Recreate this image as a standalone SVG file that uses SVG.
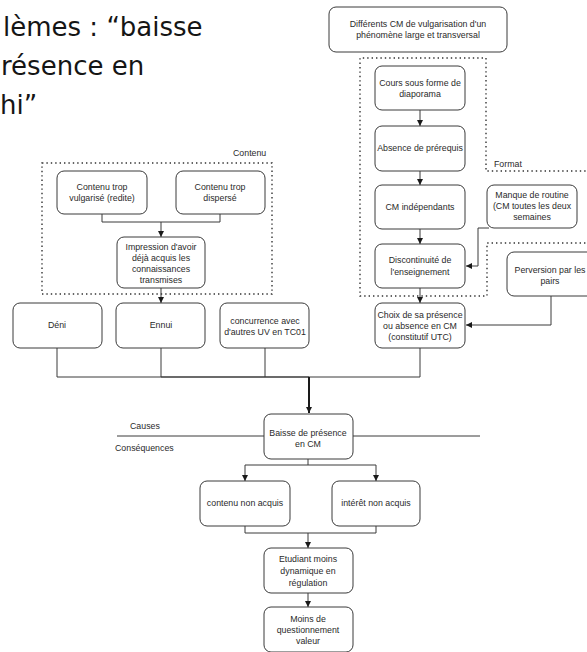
<svg xmlns="http://www.w3.org/2000/svg" width="587" height="652" viewBox="0 0 587 652">
  <defs>
    <style>
      .box { fill: #ffffff; stroke: #3a3a3a; stroke-width: 1; }
      .lbl { font-family: "Liberation Sans", Arial, sans-serif; font-size: 8.8px; fill: #2a2a2a; text-anchor: middle; }
      .side { font-family: "Liberation Sans", Arial, sans-serif; font-size: 8.8px; fill: #2a2a2a; }
      .edge { fill: none; stroke: #3a3a3a; stroke-width: 1; }
      .thick { fill: none; stroke: #1a1a1a; stroke-width: 2; }
      .dots { fill: none; stroke: #333333; stroke-width: 1.4; stroke-dasharray: 1.4 3; }
      .title { font-family: "DejaVu Sans", "Open Sans", sans-serif; font-size: 26px; fill: #151515; }
    </style>
    <marker id="arr" viewBox="0 0 8 8" refX="8" refY="4" markerWidth="6" markerHeight="6" markerUnits="userSpaceOnUse" orient="auto">
      <path d="M0,0 L8,4 L0,8 z" fill="#1a1a1a"/>
    </marker>
  </defs>

  <rect width="587" height="652" fill="#ffffff"/>

  <!-- heading text at the top left -->
  <g id="heading">
    <text class="title" x="3" y="36">lèmes : “baisse</text>
    <text class="title" x="1" y="75">résence en</text>
    <text class="title" x="0" y="114">hi”</text>
  </g>

  <!-- grouping frames -->
  <g id="frames">
    <path class="dots" d="M590,171 H486 V58 H360 V296 H487 V243 H590"/>
    <text class="side" x="494" y="167">Format</text>
    <rect class="dots" x="42" y="163" width="230" height="131"/>
    <text class="side" x="233" y="156">Contenu</text>
  </g>

  <!-- causes / consequences divider -->
  <g id="divider">
    <path class="edge" d="M117,436 H264 M353,436 H480"/>
    <text class="side" x="130" y="429">Causes</text>
    <text class="side" x="115" y="451">Conséquences</text>
  </g>

  <!-- connectors -->
  <g id="connectors">
    <path class="edge" d="M420,110 V126" marker-end="url(#arr)"/>
    <path class="edge" d="M420,171 V185" marker-end="url(#arr)"/>
    <path class="edge" d="M420,229 V244" marker-end="url(#arr)"/>
    <path class="edge" d="M420,288 V303" marker-end="url(#arr)"/>
    <path class="edge" d="M489,228 H478 V266 H466" marker-end="url(#arr)"/>
    <path class="edge" d="M551,296 V325 H466" marker-end="url(#arr)"/>

    <path class="edge" d="M102,214 V222 H220 V214"/>
    <path class="edge" d="M161,222 V237" marker-end="url(#arr)"/>
    <path class="edge" d="M161,288 V303" marker-end="url(#arr)"/>

    <path class="edge" d="M57,348 V377 H161"/>
    <path class="edge" d="M161,348 V377"/>
    <path class="edge" d="M265,348 V377"/>
    <path class="edge" d="M420,348 V377 H309"/>
    <path class="edge" style="stroke-width:1.6" d="M161,377 H309"/>
    <path class="thick" d="M309,377 V413" marker-end="url(#arr)"/>

    <path class="edge" d="M308,459 V465 H245 V481" marker-end="url(#arr)"/>
    <path class="edge" d="M308,465 H376 V481" marker-end="url(#arr)"/>
    <path class="edge" d="M245,526 V533 H376 V526"/>
    <path class="edge" d="M308,533 V548" marker-end="url(#arr)"/>
    <path class="edge" d="M308,593 V607" marker-end="url(#arr)"/>
  </g>

  <!-- nodes -->
  <g id="n-differents">
    <rect class="box" x="329" y="7" width="178" height="45" rx="7"/>
    <text class="lbl" x="418" y="27">Différents CM de vulgarisation d'un</text>
    <text class="lbl" x="418" y="38">phénomène large et transversal</text>
  </g>
  <g id="n-cours">
    <rect class="box" x="375" y="66" width="90" height="44" rx="7"/>
    <text class="lbl" x="420" y="86">Cours sous forme de</text>
    <text class="lbl" x="420" y="96.5">diaporama</text>
  </g>
  <g id="n-absence">
    <rect class="box" x="375" y="126" width="90" height="45" rx="7"/>
    <text class="lbl" x="420" y="151">Absence de prérequis</text>
  </g>
  <g id="n-independants">
    <rect class="box" x="375" y="185" width="90" height="44" rx="7"/>
    <text class="lbl" x="420" y="210">CM indépendants</text>
  </g>
  <g id="n-discontinuite">
    <rect class="box" x="375" y="244" width="90" height="44" rx="7"/>
    <text class="lbl" x="420" y="263">Discontinuité de</text>
    <text class="lbl" x="420" y="275">l'enseignement</text>
  </g>
  <g id="n-choix">
    <rect class="box" x="375" y="303" width="90" height="45" rx="7"/>
    <text class="lbl" x="420" y="318">Choix de sa présence</text>
    <text class="lbl" x="420" y="329">ou absence en CM</text>
    <text class="lbl" x="420" y="340">(constitutif UTC)</text>
  </g>
  <g id="n-routine">
    <rect class="box" x="487" y="185" width="90" height="43" rx="7"/>
    <text class="lbl" x="532" y="198">Manque de routine</text>
    <text class="lbl" x="532" y="209">(CM toutes les deux</text>
    <text class="lbl" x="532" y="220">semaines</text>
  </g>
  <g id="n-perversion">
    <rect class="box" x="507" y="252" width="90" height="44" rx="7"/>
    <text class="lbl" x="550" y="273">Perversion par les</text>
    <text class="lbl" x="550" y="284">pairs</text>
  </g>
  <g id="n-vulgarise">
    <rect class="box" x="57" y="171" width="90" height="43" rx="7"/>
    <text class="lbl" x="102" y="190">Contenu trop</text>
    <text class="lbl" x="102" y="201">vulgarisé (redite)</text>
  </g>
  <g id="n-disperse">
    <rect class="box" x="176" y="171" width="89" height="43" rx="7"/>
    <text class="lbl" x="220" y="190">Contenu trop</text>
    <text class="lbl" x="220" y="201">dispersé</text>
  </g>
  <g id="n-impression">
    <rect class="box" x="117" y="237" width="88" height="51" rx="7"/>
    <text class="lbl" x="161" y="250">Impression d'avoir</text>
    <text class="lbl" x="161" y="261">déjà acquis les</text>
    <text class="lbl" x="161" y="272">connaissances</text>
    <text class="lbl" x="161" y="282.5">transmises</text>
  </g>
  <g id="n-deni">
    <rect class="box" x="13" y="303" width="89" height="45" rx="7"/>
    <text class="lbl" x="57" y="328">Déni</text>
  </g>
  <g id="n-ennui">
    <rect class="box" x="116" y="303" width="89" height="45" rx="7"/>
    <text class="lbl" x="161" y="328">Ennui</text>
  </g>
  <g id="n-concurrence">
    <rect class="box" x="220" y="303" width="89" height="45" rx="7"/>
    <text class="lbl" x="265" y="323.5">concurrence avec</text>
    <text class="lbl" x="265" y="334.5">d'autres UV en TC01</text>
  </g>
  <g id="n-baisse">
    <rect class="box" x="264" y="414" width="89" height="45" rx="7"/>
    <text class="lbl" x="308" y="436">Baisse de présence</text>
    <text class="lbl" x="308" y="446.5">en CM</text>
  </g>
  <g id="n-contenu-non">
    <rect class="box" x="200" y="481" width="90" height="45" rx="7"/>
    <text class="lbl" x="245" y="506">contenu non acquis</text>
  </g>
  <g id="n-interet-non">
    <rect class="box" x="332" y="481" width="88" height="45" rx="7"/>
    <text class="lbl" x="376" y="506">intérêt non acquis</text>
  </g>
  <g id="n-etudiant">
    <rect class="box" x="264" y="548" width="89" height="45" rx="7"/>
    <text class="lbl" x="308" y="562">Etudiant moins</text>
    <text class="lbl" x="308" y="574">dynamique en</text>
    <text class="lbl" x="308" y="586">régulation</text>
  </g>
  <g id="n-moins">
    <rect class="box" x="264" y="607" width="89" height="45" rx="7"/>
    <text class="lbl" x="308" y="622">Moins de</text>
    <text class="lbl" x="308" y="633">questionnement</text>
    <text class="lbl" x="308" y="644">valeur</text>
  </g>
</svg>
